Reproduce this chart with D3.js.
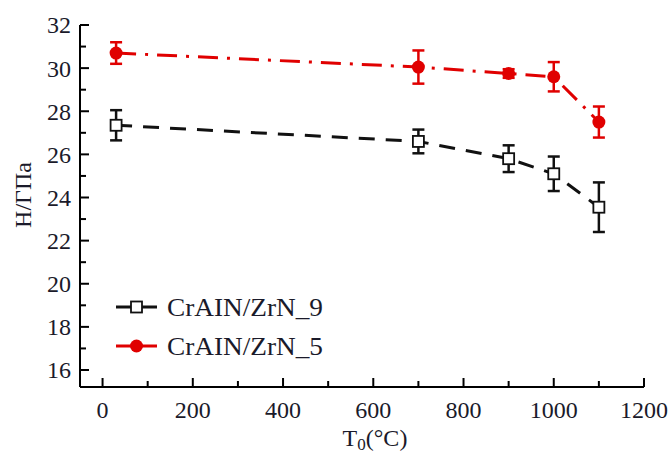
<!DOCTYPE html>
<html>
<head>
<meta charset="utf-8">
<script src="https://cdn.jsdelivr.net/npm/d3@7"></script>
<style>
body { margin: 0; background: #fff; }
text { font-family: "Liberation Serif", "DejaVu Serif", serif; fill: #1a1a2a; }
</style>
</head>
<body>
<svg id="chart" width="670" height="453"></svg>
<script>
// data
var temps = [30, 700, 900, 1000, 1100];
var hard9 = [27.35, 26.6, 25.8, 25.1, 23.55];
var err9 = [0.7, 0.55, 0.62, 0.8, 1.15];
var hard5 = [30.7, 30.05, 29.75, 29.6, 27.5];
var err5 = [0.5, 0.77, 0.2, 0.68, 0.72];
var xTicks = [0, 200, 400, 600, 800, 1000, 1200];
var yTicks = [16, 18, 20, 22, 24, 26, 28, 30, 32];
var names = ["CrAIN/ZrN_9", "CrAIN/ZrN_5"];

var svg = d3.select("#chart");

var x = d3.scaleLinear().domain([-50, 1200]).range([80, 644]);
var y = d3.scaleLinear().domain([16, 32]).range([370, 25]);
var yBottom = 387;

// axes lines
svg.append("line")
.style("stroke", "black").style("stroke-width", 2)
.attr("x1", 80).attr("y1", yBottom)
.attr("x2", 80).attr("y2", y(32));
svg.append("line")
.style("stroke", "black").style("stroke-width", 2)
.attr("x1", 80).attr("y1", yBottom)
.attr("x2", x(1200)).attr("y2", yBottom);

// y ticks, major and minor, pointing inward
d3.range(16, 32.5, 1).forEach(function (v) {
	var major = v % 2 == 0;
	svg.append("line")
	.style("stroke", "black").style("stroke-width", 2)
	.attr("x1", 80).attr("x2", 80 + (major ? 9 : 6))
	.attr("y1", y(v)).attr("y2", y(v));
});
yTicks.forEach(function (v) {
	svg.append("text")
	.text(v)
	.attr("x", 71)
	.attr("y", y(v))
	.attr("dy", "0.35em")
	.attr("text-anchor", "end")
	.attr("font-size", 24);
});

// x ticks
d3.range(0, 1201, 100).forEach(function (v) {
	var major = v % 200 == 0;
	svg.append("line")
	.style("stroke", "black").style("stroke-width", 2)
	.attr("x1", x(v)).attr("x2", x(v))
	.attr("y1", yBottom).attr("y2", yBottom - (major ? 9 : 6));
});
xTicks.forEach(function (v) {
	svg.append("text")
	.text(v)
	.attr("x", x(v))
	.attr("y", 418)
	.attr("text-anchor", "middle")
	.attr("font-size", 24);
});

// axis titles
var xt = svg.append("text")
.attr("x", 375).attr("y", 446)
.attr("text-anchor", "middle")
.attr("font-size", 24);
xt.append("tspan").text("T");
xt.append("tspan").text("0").attr("dy", 4).attr("font-size", 17);
xt.append("tspan").text("(°C)").attr("dy", -4);

svg.append("text")
.text("H/ГПа")
.attr("transform", "translate(31,195) rotate(-90)")
.attr("text-anchor", "middle")
.attr("font-size", 24);

// lines
var line = d3.line()
.x(function (d) { return x(d[0]); })
.y(function (d) { return y(d[1]); });

svg.append("path")
.datum(d3.zip(temps, hard9))
.attr("d", line)
.style("fill", "none")
.style("stroke", "#111")
.style("stroke-width", 3)
.style("stroke-dasharray", "16,11");

svg.append("path")
.datum(d3.zip(temps, hard5))
.attr("d", line)
.style("fill", "none")
.style("stroke", "#e00000")
.style("stroke-width", 3)
.style("stroke-dasharray", "20,9,3,9");

// error bars
function errorBars(vals, errs, color) {
	temps.forEach(function (t, i) {
		var cx = x(t);
		var lo = y(vals[i] - errs[i]), hi = y(vals[i] + errs[i]);
		svg.append("line").style("stroke", color).style("stroke-width", 2.5)
		.attr("x1", cx).attr("x2", cx).attr("y1", lo).attr("y2", hi);
		[lo, hi].forEach(function (yy) {
			svg.append("line").style("stroke", color).style("stroke-width", 2.5)
			.attr("x1", cx - 6).attr("x2", cx + 6).attr("y1", yy).attr("y2", yy);
		});
	});
}
errorBars(hard9, err9, "#111");
errorBars(hard5, err5, "#e00000");

// markers
temps.forEach(function (t, i) {
	svg.append("rect")
	.attr("x", x(t) - 5.5).attr("y", y(hard9[i]) - 5.5)
	.attr("width", 11).attr("height", 11)
	.style("fill", "white")
	.style("stroke", "#111")
	.style("stroke-width", 1.8);
	svg.append("circle")
	.attr("cx", x(t)).attr("cy", y(hard5[i]))
	.attr("r", 6.5)
	.style("fill", "#e00000");
});

// legend
var legY = [307, 346];
svg.append("line").style("stroke", "#111").style("stroke-width", 3)
.attr("x1", 116).attr("x2", 157).attr("y1", legY[0]).attr("y2", legY[0]);
svg.append("rect")
.attr("x", 131).attr("y", legY[0] - 5.5).attr("width", 11).attr("height", 11)
.style("fill", "white").style("stroke", "#111").style("stroke-width", 1.8);
svg.append("line").style("stroke", "#e00000").style("stroke-width", 3)
.attr("x1", 116).attr("x2", 157).attr("y1", legY[1]).attr("y2", legY[1]);
svg.append("circle")
.attr("cx", 136.5).attr("cy", legY[1]).attr("r", 6.5)
.style("fill", "#e00000");

names.forEach(function (n, i) {
	svg.append("text")
	.text(n)
	.attr("x", 167)
	.attr("y", legY[i])
	.attr("dy", "0.35em")
	.attr("font-size", 25)
	.attr("textLength", 156)
	.attr("lengthAdjust", "spacingAndGlyphs");
});
</script>
</body>
</html>
